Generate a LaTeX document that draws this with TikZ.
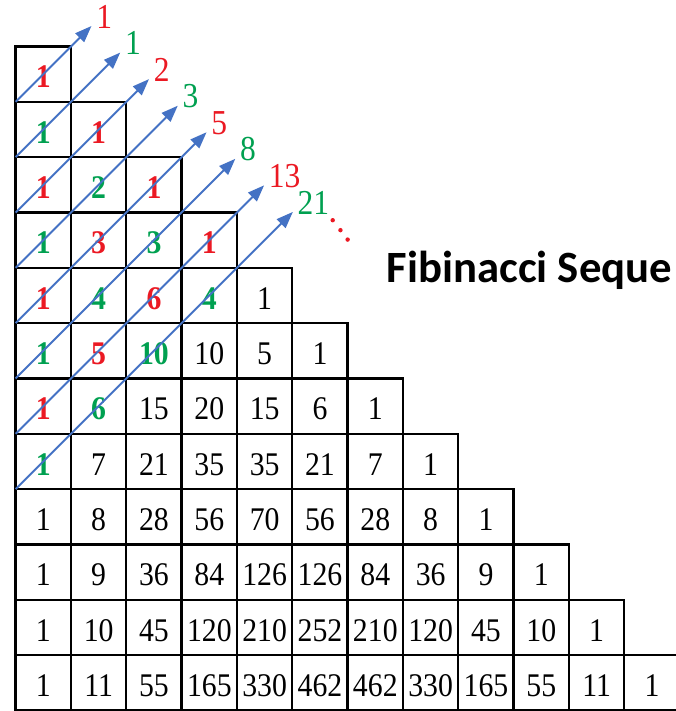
\documentclass[tikz,border=0pt]{standalone}
\usepackage{fontspec}
\setmainfont{Liberation Serif}[FakeStretch=0.9]
\newfontfamily\titulo{Carlito}
\usetikzlibrary{arrows.meta}

\definecolor{rojo}{RGB}{235,25,35}
\definecolor{verde}{RGB}{0,160,80}
\definecolor{azul}{RGB}{68,114,196}

\newcommand{\letracelda}{\fontsize{17}{18}\selectfont}

\tikzset{
	celda/.style={draw, line width=1.2pt, minimum size=1cm, inner sep=0pt,
		text height=0.5cm, text depth=0pt, font=\letracelda},
	par/.style={text=rojo, font=\letracelda\bfseries},
	impar/.style={text=verde, font=\letracelda\bfseries},
	tono/.code={\ifnum#1<8 \ifodd#1 \tikzset{impar}\else\tikzset{par}\fi\fi},
	flecha/.style={azul, line width=1pt, -{Triangle[length=0.3cm, width=0.22cm]}},
	etiq/.style={anchor=south west, inner sep=0pt, xshift=0.08cm, yshift=-0.05cm,
		font=\fontsize{18}{20}\selectfont}
}

\begin{document}
\begin{tikzpicture}[x=1cm, y=-1cm]

\useasboundingbox (-0.283,-0.84) rectangle (11.917,12.01);

% Triangulo de Pascal
	\foreach \fila [count=\r from 0] in {{1},{1,1},{1,2,1},{1,3,3,1},{1,4,6,4,1},
		{1,5,10,10,5,1},{1,6,15,20,15,6,1},{1,7,21,35,35,21,7,1},
		{1,8,28,56,70,56,28,8,1},{1,9,36,84,126,126,84,36,9,1},
		{1,10,45,120,210,252,210,120,45,10,1},
		{1,11,55,165,330,462,462,330,165,55,11,1}}
		\foreach \v [count=\c from 0] in \fila {
			\pgfmathtruncatemacro\k{\r+\c}
			\node[celda, tono=\k] (c\r-\c) at (\c+0.5,\r+0.5) {\v};
		}

% Diagonales
	\foreach \lab/\col [count=\k from 0] in {1/rojo,1/verde,2/rojo,3/verde,5/rojo,8/verde,13/rojo,21/verde} {
		\pgfmathsetmacro\tx{1.37+0.52*\k}
		\pgfmathsetmacro\ty{\k+1-\tx}
		\coordinate (s\k) at (0,\k+1);
		\coordinate (t\k) at (\tx,\ty);
		\draw[flecha] (s\k) -- (t\k);
		\node[etiq, text=\col] (f\k) at (t\k) {\lab};
	}

	\foreach \p in {(5.73,3.14), (5.87,3.32), (6.00,3.49)}
		\fill[rojo] \p circle (0.04);

\node[anchor=base west, inner sep=0pt, font=\titulo\bfseries\fontsize{23}{26}\selectfont]
	(titulo) at (6.70,4.27) {Fibinacci Seque};
\end{tikzpicture}
\end{document}
